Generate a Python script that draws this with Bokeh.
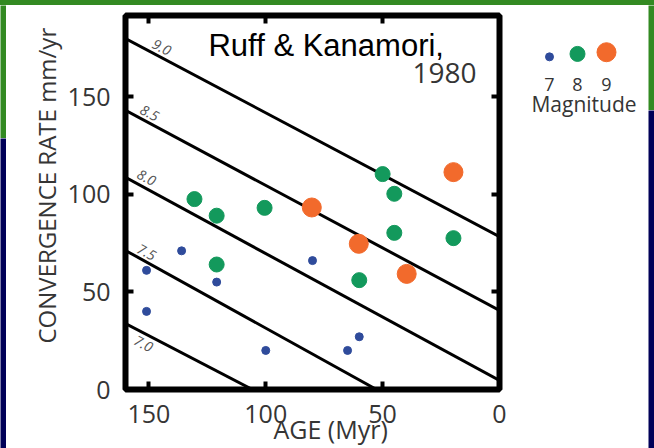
from bokeh.plotting import figure
from bokeh.models import Range1d, FixedTicker, LinearAxis, Label, Title, Div
from bokeh.layouts import column, row
from bokeh.embed import file_html
from bokeh.resources import INLINE
from bokeh.core.properties import value

# ---------------- data ----------------
# magnitude 7 events (age Myr, convergence rate mm/yr)
mag7_age = [151, 151, 136, 121, 100, 80, 65, 60]
mag7_rate = [61, 40, 71, 55, 20, 66, 20, 27]
# magnitude 8 events
mag8_age = [130.5, 121, 100.5, 121, 50, 45, 45, 60, 19.7]
mag8_rate = [97.5, 89, 93, 64, 110.3, 100.2, 80.2, 56, 77.5]
# magnitude 9 events
mag9_age = [80.3, 60.2, 39.7, 19.7]
mag9_rate = [93.2, 74.6, 59.2, 111.3]

magnitudes = ["7", "8", "9"]
mag_colors = ["#2f4b9b", "#13995c", "#f26a2c"]
mag_sizes = [8, 15, 19]

# iso-magnitude lines (endpoints in age / rate)
contour_labels = ["9.0", "8.5", "8.0", "7.5", "7.0"]
contour_age0 = [160, 160, 160, 160, 160]
contour_rate0 = [179.7, 142.9, 108.6, 71.2, 33.8]
contour_age1 = [0, 0, 0, 52.6, 105.7]
contour_rate1 = [78.3, 40.5, 4.6, 0, 0]
contour_label_age = [144.5, 149.7, 151.0, 151.0, 152.3]
contour_label_rate = [175.2, 141.6, 108.5, 70.3, 23.4]

x_ticks = [0, 50, 100, 150]
y_ticks = [0, 50, 100, 150]

# ---------------- styling ----------------
GREEN = "#338a22"
NAVY = "#000058"
TXT = "#353535"

# ---------------- main plot ----------------
p = figure(width=514, height=443, x_range=Range1d(160, 0), y_range=Range1d(0, 191.5),
           output_backend="svg", toolbar_location=None,
           min_border_left=119, min_border_right=21, min_border_top=10, min_border_bottom=59,
           background_fill_color="white", border_fill_color="white")
p.grid.visible = False
p.outline_line_color = "black"
p.outline_line_width = 6

p.xaxis.ticker = FixedTicker(ticks=x_ticks)
p.yaxis.ticker = FixedTicker(ticks=y_ticks)
for ax in (p.xaxis[0], p.yaxis[0]):
    ax.axis_line_color = None
    ax.major_tick_in = 8
    ax.major_tick_out = 0
    ax.major_tick_line_width = 4
    ax.major_tick_line_color = "black"
    ax.minor_tick_line_color = None
    ax.major_label_text_font = "Open Sans"
    ax.major_label_text_font_size = "25px"
    ax.major_label_text_color = TXT
p.xaxis.major_label_standoff = 15
p.yaxis.major_label_standoff = 15

y_title = Title(text="CONVERGENCE RATE mm/yr", align="left", offset=46, standoff=4,
                vertical_align="bottom", text_font="Open Sans", text_font_size="24px",
                text_font_style="normal", text_color=TXT)
p.add_layout(y_title, "left")

x_title = Title(text="AGE (Myr)", align="left", offset=148, standoff=-27,
                vertical_align="top", text_font="Open Sans", text_font_size="25px",
                text_font_style="normal", text_color=TXT)
p.add_layout(x_title, "below")

for side, ticks in (("above", x_ticks), ("right", y_ticks)):
    ax = LinearAxis(ticker=FixedTicker(ticks=ticks), axis_line_color=None,
                    major_tick_in=8, major_tick_out=0, major_tick_line_width=4,
                    major_tick_line_color="black", minor_tick_line_color=None,
                    major_label_text_font_size="0px", major_label_standoff=0,
                    major_label_overrides={t: "" for t in ticks})
    p.add_layout(ax, side)

p.segment(x0=contour_age0, y0=contour_rate0, x1=contour_age1, y1=contour_rate1,
          line_color="black", line_width=3)
p.text(x=contour_label_age, y=contour_label_rate, text=contour_labels, angle=-0.49,
       text_font=value("Open Sans"), text_font_style="italic", text_font_size="14px",
       text_color="#555555", text_align="center", text_baseline="middle")

for ages, rates, c, s in zip((mag7_age, mag8_age, mag9_age), (mag7_rate, mag8_rate, mag9_rate),
                             mag_colors, mag_sizes):
    p.scatter(x=ages, y=rates, size=s, fill_color=c, line_color=c)

p.add_layout(Label(x=124.5, y=176.1, text="Ruff & Kanamori,", text_font="Liberation Sans",
                   text_font_size="31px", text_color="black", text_align="left",
                   text_baseline="alphabetic"))
p.add_layout(Label(x=9.8, y=162.3, text="1980", text_font="Open Sans",
                   text_font_size="28px", text_color=TXT, text_align="right",
                   text_baseline="alphabetic"))

# ---------------- legend panel ----------------
lg = figure(width=128, height=443, x_range=Range1d(520, 648), y_range=Range1d(448, 5),
            output_backend="svg", toolbar_location=None, min_border=0, title=None,
            x_axis_type=None, y_axis_type=None,
            background_fill_color="white", border_fill_color="white")
lg.outline_line_color = None
leg_x = [549, 577, 606]
leg_dot_y = [58 - s / 2 for s in mag_sizes]
lg.scatter(x=leg_x, y=leg_dot_y, size=mag_sizes, fill_color=mag_colors, line_color=mag_colors)
lg.text(x=leg_x, y=[87] * 3, text=magnitudes, text_font=value("Open Sans"),
        text_font_size="18px", text_color=TXT, text_align="center", text_baseline="alphabetic")
lg.text(x=[583.5], y=[109.5], text=["Magnitude"], text_font=value("Open Sans"),
        text_font_size="21px", text_color=TXT, text_align="center", text_baseline="alphabetic")


# ---------------- background strips ----------------
def strip(w, h, color):
    f = figure(width=w, height=h, output_backend="svg", toolbar_location=None, min_border=0,
               title=None, x_axis_type=None, y_axis_type=None,
               background_fill_color=color, border_fill_color=color)
    f.outline_line_color = None
    return f


top_strip = Div(text="", width=654, height=5, margin=0,
                styles={"background-color": GREEN})

layout = column(
    top_strip,
    row(
        column(strip(6, 133, GREEN), strip(6, 310, NAVY)),
        p,
        lg,
        column(strip(6, 105, GREEN), strip(6, 338, NAVY)),
    ),
)

open("out.html", "w").write(file_html(layout, INLINE))
